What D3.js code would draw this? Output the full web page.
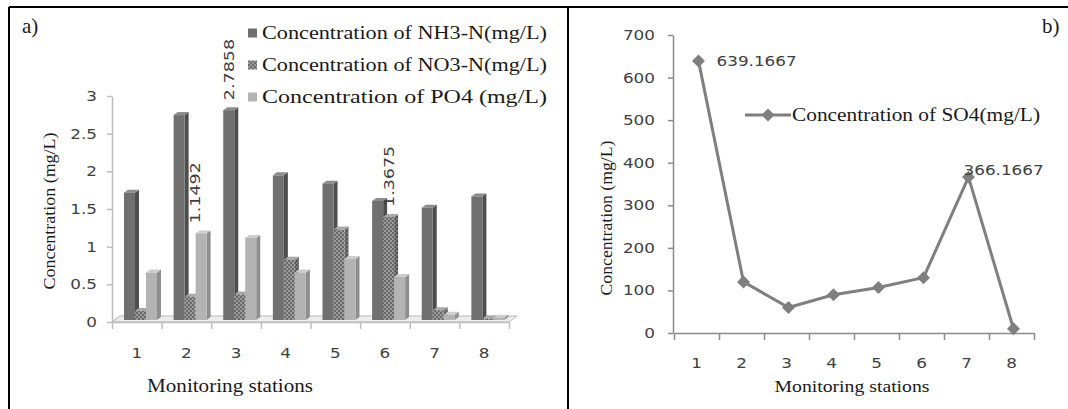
<!DOCTYPE html>
<html>
<head>
<meta charset="utf-8">
<script src="https://cdn.jsdelivr.net/npm/d3@7/dist/d3.min.js"></script>
<style>
    body { margin: 0; background: #fff; }
    svg { display: block; }
    .tick text { font-family: "DejaVu Sans", sans-serif; font-size: 14px; fill: #404040; }
    .serif { font-family: "Liberation Serif", "Times New Roman", serif; fill: #1a1a1a; }
    .dlabel { font-family: "DejaVu Sans", sans-serif; font-size: 14px; fill: #404040; }
</style>
</head>
<body>
<svg id="fig" width="1068" height="409"></svg>
<script>

    // ---- data ----
    var stations = ['1', '2', '3', '4', '5', '6', '7', '8'];
    var nh3 = [1.69, 2.72, 2.7858, 1.92, 1.81, 1.58, 1.49, 1.64];
    var no3 = [0.12, 0.31, 0.34, 0.80, 1.20, 1.3675, 0.13, 0.02];
    var po4 = [0.63, 1.1492, 1.09, 0.63, 0.81, 0.57, 0.07, 0.03];
    var so4 = [639.1667, 120, 60, 90, 107, 130, 366.1667, 10];

    var yTicksA = [0, 0.5, 1, 1.5, 2, 2.5, 3];
    var yTicksB = [0, 100, 200, 300, 400, 500, 600, 700];

    var legendA = ['Concentration of NH3-N(mg/L)', 'Concentration of NO3-N(mg/L)', 'Concentration of PO4 (mg/L)'];
    var legendB = 'Concentration of SO4(mg/L)';

    var svg = d3.select('#fig');

    // stretch text to a given width (the original fonts are wide)
    function fitWidth(sel, w) {
        sel.attr('textLength', w).attr('lengthAdjust', 'spacingAndGlyphs');
    }
    function widen(sel, k) {
        sel.each(function() {
            var w = this.getComputedTextLength();
            this.setAttribute('textLength', w * k);
            this.setAttribute('lengthAdjust', 'spacingAndGlyphs');
        });
    }

    // frame lines
    svg.append('line').attr('x1', 9).attr('x2', 1068).attr('y1', 7).attr('y2', 7)
        .attr('stroke', '#000').attr('stroke-width', 2);
    svg.append('line').attr('x1', 9).attr('x2', 9).attr('y1', 7).attr('y2', 409)
        .attr('stroke', '#000').attr('stroke-width', 2);
    svg.append('line').attr('x1', 568).attr('x2', 568).attr('y1', 7).attr('y2', 409)
        .attr('stroke', '#000').attr('stroke-width', 2);

    svg.append('text').attr('class', 'serif').attr('x', 22).attr('y', 33)
        .style('font-size', '21px').text('a)');
    svg.append('text').attr('class', 'serif').attr('x', 1042).attr('y', 33)
        .style('font-size', '21px').text('b)');

    // ================= panel a) 3D-ish clustered columns =================
    var defs = svg.append('defs');
    var pat = defs.append('pattern').attr('id', 'checks')
        .attr('patternUnits', 'userSpaceOnUse').attr('width', 4).attr('height', 4);
    pat.append('rect').attr('width', 4).attr('height', 4).attr('fill', '#9a9a9a');
    pat.append('rect').attr('width', 2).attr('height', 2).attr('fill', '#6a6a6a');
    pat.append('rect').attr('x', 2).attr('y', 2).attr('width', 2).attr('height', 2).attr('fill', '#6a6a6a');

    var patSide = defs.append('pattern').attr('id', 'checksSide')
        .attr('patternUnits', 'userSpaceOnUse').attr('width', 4).attr('height', 4);
    patSide.append('rect').attr('width', 4).attr('height', 4).attr('fill', '#7a7a7a');
    patSide.append('rect').attr('width', 2).attr('height', 2).attr('fill', '#555');
    patSide.append('rect').attr('x', 2).attr('y', 2).attr('width', 2).attr('height', 2).attr('fill', '#555');

    var xA = d3.scaleLinear().domain([0, stations.length]).range([112, 509]);
    var xBandA = d3.scaleBand().domain(stations).range([112, 509]);
    var yA = d3.scaleLinear().domain([0, 3]).range([322, 96]);

    var depth = {dx: 8, dy: -6};

    // floor
    svg.append('polygon')
        .attr('points', [[xA(0), 322], [xA(8), 322], [xA(8) + depth.dx, 322 + depth.dy], [xA(0) + depth.dx, 322 + depth.dy]].join(' '))
        .attr('fill', '#ececec').attr('stroke', '#b8b8b8').attr('stroke-width', 1);

    // y axis
    var gyA = svg.append('g').attr('transform', 'translate(112,0)')
        .call(d3.axisLeft(yA).tickValues(yTicksA).tickSize(5).tickSizeOuter(0).tickPadding(10)
            .tickFormat(function(d) { return String(d); }));
    gyA.select('.domain').attr('stroke', '#bdbdbd').attr('stroke-width', 1.5);
    gyA.selectAll('.tick line').attr('stroke', '#bdbdbd').attr('stroke-width', 1.5);
    widen(gyA.selectAll('.tick text'), 1.2);

    // x axis ticks at station boundaries
    var gxA = svg.append('g').attr('transform', 'translate(0,322)')
        .call(d3.axisBottom(xA).tickValues(d3.range(stations.length + 1)).tickSize(7).tickSizeOuter(0).tickFormat(''));
    gxA.select('.domain').attr('stroke', '#bdbdbd').attr('stroke-width', 1.5);
    gxA.selectAll('.tick line').attr('stroke', '#bdbdbd').attr('stroke-width', 1.5);

    var gxLabA = svg.append('g').attr('transform', 'translate(0,322)')
        .call(d3.axisBottom(xBandA).tickSize(0).tickPadding(26));
    gxLabA.select('.domain').remove();
    widen(gxLabA.selectAll('.tick text'), 1.2);

    // bars
    var series = [
        {name: legendA[0], values: nh3, front: '#707070', side: '#4e4e4e', top: '#8c8c8c'},
        {name: legendA[1], values: no3, front: 'url(#checks)', side: 'url(#checksSide)', top: '#a8a8a8'},
        {name: legendA[2], values: po4, front: '#b3b3b3', side: '#8e8e8e', top: '#cdcdcd'}
    ];

    var barW = 11, off = 12, sdx = 4, sdy = -3, base = 320;

    stations.forEach(function(s, i) {
        var g = svg.append('g').attr('class', 'cluster');
        series.forEach(function(ser, j) {
            var v = ser.values[i];
            var x0 = xA(i) + off + j * barW;
            var yt = yA(v) - 2;
            if (yt > base - 1) yt = base - 1;
            // side face
            g.append('polygon')
                .attr('points', [[x0 + barW, yt], [x0 + barW + sdx, yt + sdy], [x0 + barW + sdx, base + sdy], [x0 + barW, base]].join(' '))
                .attr('fill', ser.side);
            // top face
            g.append('polygon')
                .attr('points', [[x0, yt], [x0 + sdx, yt + sdy], [x0 + barW + sdx, yt + sdy], [x0 + barW, yt]].join(' '))
                .attr('fill', ser.top);
            // front face
            g.append('rect')
                .attr('x', x0).attr('y', yt)
                .attr('width', barW).attr('height', base - yt)
                .attr('fill', ser.front);
        });
    });

    // data labels (rotated)
    var labelsA = [
        {s: 0, i: 2, dx: 0},
        {s: 2, i: 1, dx: -6},
        {s: 1, i: 5, dx: 0}
    ];
    labelsA.forEach(function(l) {
        var v = series[l.s].values[l.i];
        var cx = xA(l.i) + off + l.s * barW + barW / 2 + l.dx;
        var yb = yA(v) - 12;
        var t = svg.append('text').attr('class', 'dlabel')
            .attr('transform', 'translate(' + (cx + 5) + ',' + yb + ') rotate(-90)')
            .text(d3.format('.4f')(v).replace(/0+$/, ''));
        widen(t, 1.25);
    });

    // legend a
    var legA = svg.append('g').attr('transform', 'translate(248,0)');
    series.forEach(function(ser, j) {
        var cy = 33 + j * 32;
        legA.append('rect').attr('x', 0).attr('y', cy - 4.5).attr('width', 9).attr('height', 9)
            .attr('fill', ser.front);
        var t = legA.append('text').attr('class', 'serif').attr('x', 14).attr('y', cy + 6)
            .style('font-size', '19px').text(ser.name);
        fitWidth(t, 285);
    });

    // axis titles a
    var tA = svg.append('text').attr('class', 'serif')
        .attr('transform', 'translate(55,211) rotate(-90)')
        .attr('text-anchor', 'middle').style('font-size', '16px')
        .text('Concentration (mg/L)');
    fitWidth(tA, 157);
    var xtA = svg.append('text').attr('class', 'serif')
        .attr('x', 230).attr('y', 392).attr('text-anchor', 'middle')
        .style('font-size', '18px').text('Monitoring stations');
    fitWidth(xtA, 166);

    // ================= panel b) line chart =================
    var xB = d3.scaleLinear().domain([0, stations.length]).range([674, 1034]);
    var xBandB = d3.scaleBand().domain(stations).range([674, 1034]);
    var yB = d3.scaleLinear().domain([0, 700]).range([333, 35]);

    var gyB = svg.append('g').attr('transform', 'translate(673,0)')
        .call(d3.axisLeft(yB).tickValues(yTicksB).tickSize(5).tickSizeOuter(0).tickPadding(13));
    gyB.select('.domain').attr('stroke', '#8a8a8a').attr('stroke-width', 1.5);
    gyB.selectAll('.tick line').attr('stroke', '#8a8a8a').attr('stroke-width', 1.5);
    widen(gyB.selectAll('.tick text'), 1.2);

    var gxB = svg.append('g').attr('transform', 'translate(0,333)')
        .call(d3.axisBottom(xB).tickValues(d3.range(stations.length + 1)).tickSize(7).tickSizeOuter(0).tickFormat(''));
    gxB.select('.domain').attr('stroke', '#8a8a8a').attr('stroke-width', 1.5);
    gxB.selectAll('.tick line').attr('stroke', '#8a8a8a').attr('stroke-width', 1.5);

    var gxLabB = svg.append('g').attr('transform', 'translate(0,333)')
        .call(d3.axisBottom(xBandB).tickSize(0).tickPadding(25));
    gxLabB.select('.domain').remove();
    widen(gxLabB.selectAll('.tick text'), 1.2);

    var cxB = function(d, i) { return xBandB(stations[i]) + xBandB.bandwidth() / 2 + 2; };

    var line = d3.line()
        .x(cxB)
        .y(function(d) { return yB(d); });

    svg.append('path').datum(so4)
        .attr('d', line)
        .attr('fill', 'none')
        .attr('stroke', '#7f7f7f')
        .attr('stroke-width', 3)
        .attr('stroke-linejoin', 'round');

    var diamond = d3.symbol().type(d3.symbolSquare).size(84);
    svg.selectAll('.marker').data(so4).enter()
        .append('path').attr('class', 'marker')
        .attr('d', diamond)
        .attr('transform', function(d, i) { return 'translate(' + cxB(d, i) + ',' + yB(d) + ') rotate(45)'; })
        .attr('fill', '#7f7f7f');

    // point labels
    var labelsB = [{i: 0, dx: 18, dy: 5}, {i: 6, dx: -5, dy: -2}];
    labelsB.forEach(function(l) {
        var v = so4[l.i];
        var t = svg.append('text').attr('class', 'dlabel')
            .attr('x', cxB(v, l.i) + l.dx).attr('y', yB(v) + l.dy)
            .text(d3.format('.4f')(v));
        widen(t, 1.2);
    });

    // legend b
    var legB = svg.append('g').attr('transform', 'translate(745,115)');
    legB.append('line').attr('x1', 0).attr('x2', 46).attr('y1', 0).attr('y2', 0)
        .attr('stroke', '#7f7f7f').attr('stroke-width', 3);
    legB.append('path').attr('d', diamond).attr('transform', 'translate(23,0) rotate(45)')
        .attr('fill', '#7f7f7f');
    var tl = legB.append('text').attr('class', 'serif').attr('x', 47).attr('y', 6)
        .style('font-size', '18px').text(legendB);
    fitWidth(tl, 248);

    // axis titles b
    var tB = svg.append('text').attr('class', 'serif')
        .attr('transform', 'translate(612,218) rotate(-90)')
        .attr('text-anchor', 'middle').style('font-size', '16px')
        .text('Concentration (mg/L)');
    fitWidth(tB, 155);
    var xtB = svg.append('text').attr('class', 'serif')
        .attr('x', 852).attr('y', 392).attr('text-anchor', 'middle')
        .style('font-size', '17px').text('Monitoring stations');
    fitWidth(xtB, 155);

</script>
</body>
</html>
